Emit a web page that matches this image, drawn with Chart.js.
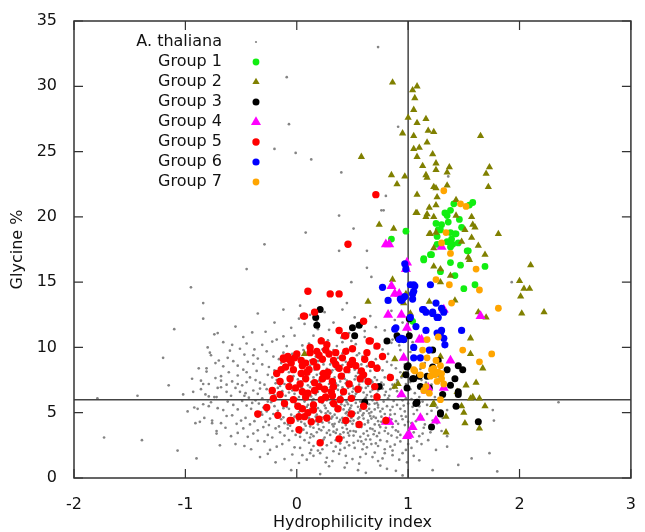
<!DOCTYPE html>
<html>
<head>
<meta charset="utf-8">
<script src="https://cdn.jsdelivr.net/npm/chart.js@4/dist/chart.umd.min.js"></script>
<style>
  html, body { margin: 0; padding: 0; background: #fff; }
  #chart { display: block; }
</style>
</head>
<body>
<canvas id="chart" width="645" height="532"></canvas>
<script>
// axis ticks
const xTicks = [-2, -1, 0, 1, 2, 3];
const yTicks = [0, 5, 10, 15, 20, 25, 30, 35];
const refX = 1;
const refY = 6;

const seriesNames = ['A. thaliana', 'Group 1', 'Group 2', 'Group 3', 'Group 4', 'Group 5', 'Group 6', 'Group 7'];

// background proteome (the dense cloud is approximated)
const thaliana = [
  [0.73,33.0],[-0.09,30.7],[-0.07,27.1],[-0.20,25.2],[-0.01,24.9],[0.13,24.4],[0.40,23.4],[0.91,26.9],
  [0.80,21.6],[0.78,20.5],[0.38,20.1],[0.51,19.1],[0.08,18.8],[-0.29,17.9],[0.38,17.4],[0.63,17.4],
  [0.63,16.1],[-0.45,16.0],[1.36,23.1],[0.76,20.5],[0.49,15.0],[0.67,15.4],[1.93,15.0],
  [-0.95,14.6],[-0.84,13.4],[-0.84,12.2],[-1.10,11.4],[-0.74,11.0],[-0.71,11.1],[-1.20,9.2],[-1.15,7.1],
  [-1.43,6.3],[-1.79,6.1],[-1.39,2.9],[-1.07,2.1],[-0.98,5.1],[-0.90,1.5],[-0.91,4.2],[-0.87,4.3],
  [-0.89,5.3],[-0.80,10.0],[-0.77,9.4],[-0.81,8.4],[-0.84,7.2],[-0.82,6.4],[-0.79,5.5],[-0.76,4.2],
  [-0.72,3.4],[-0.69,2.5],[-0.74,6.2],[-0.71,6.9],[-0.70,9.0],[-1.73,3.1],
  [1.73,1.9],[1.57,1.5],[1.80,0.5],[1.77,4.4],[2.35,5.8],[1.35,3.2],[1.35,2.4],[1.76,5.2],[1.45,1.0],[1.22,0.6],
  [-0.35,12.6],[0.02,12.2],[0.41,12.9],[0.66,12.4],[0.88,12.1],[0.25,12.7],[-0.12,12.9],
  [-0.55,11.6],[-0.28,11.2],[0.07,11.8],[0.19,11.4],[0.47,11.1],[0.58,11.7],[0.79,11.3],[0.95,11.9],[-0.05,11.5],[0.33,11.9],
  [-0.66,10.4],[-0.48,10.8],[-0.31,10.2],[-0.18,10.6],[-0.02,10.9],[0.11,10.3],[0.22,10.7],[0.36,10.1],
  [0.49,10.5],[0.61,10.8],[0.74,10.2],[0.86,10.6],[1.04,10.4],[0.15,10.9],[0.41,10.4],[-0.09,10.1],
  [-0.78,9.6],[-0.62,9.2],[-0.51,9.9],[-0.39,9.4],[-0.27,9.7],[-0.16,9.1],[-0.04,9.5],[0.06,9.8],
  [0.17,9.3],[0.28,9.6],[0.37,9.2],[0.45,9.9],[0.54,9.4],[0.63,9.7],[0.71,9.1],[0.82,9.5],
  [0.93,9.8],[1.09,9.3],[1.18,9.6],[0.12,9.0],[0.33,9.8],[-0.21,9.3],
  [-0.88,8.4],[-0.73,8.8],[-0.61,8.1],[-0.53,8.6],[-0.44,8.9],[-0.36,8.2],[-0.25,8.5],[-0.14,8.8],
  [-0.07,8.1],[0.03,8.6],[0.09,8.9],[0.16,8.3],[0.24,8.7],[0.31,8.1],[0.38,8.5],[0.44,8.9],
  [0.52,8.3],[0.58,8.7],[0.66,8.2],[0.73,8.6],[0.81,8.9],[0.89,8.4],[0.97,8.7],[1.06,8.2],
  [1.15,8.8],[0.21,8.0],[0.47,8.1],[-0.31,8.7],[0.62,8.95],[0.35,8.35],
  [-0.94,7.6],[-0.79,7.2],[-0.68,7.8],[-0.58,7.4],[-0.49,7.1],[-0.42,7.7],[-0.33,7.3],[-0.26,7.9],
  [-0.18,7.5],[-0.11,7.2],[-0.03,7.8],[0.04,7.4],[0.10,7.1],[0.15,7.7],[0.21,7.3],[0.27,7.9],
  [0.32,7.5],[0.37,7.1],[0.43,7.6],[0.48,7.3],[0.53,7.8],[0.59,7.4],[0.64,7.05],[0.70,7.7],
  [0.76,7.3],[0.83,7.9],[0.90,7.5],[0.98,7.2],[1.07,7.6],[1.16,7.3],[1.27,7.8],[0.25,7.55],
  [0.40,7.85],[0.08,7.65],[-0.15,7.05],[0.56,7.15],[0.67,7.45],
  [-1.02,6.4],[-0.86,6.8],[-0.72,6.2],[-0.63,6.6],[-0.55,6.9],[-0.47,6.3],[-0.39,6.7],[-0.31,6.1],
  [-0.24,6.5],[-0.17,6.9],[-0.10,6.3],[-0.04,6.7],[0.02,6.2],[0.07,6.6],[0.12,6.95],[0.17,6.4],
  [0.22,6.8],[0.26,6.1],[0.31,6.5],[0.35,6.85],[0.40,6.3],[0.44,6.7],[0.49,6.15],[0.54,6.55],
  [0.58,6.9],[0.63,6.35],[0.68,6.75],[0.74,6.2],[0.80,6.6],[0.87,6.9],[0.94,6.4],[1.02,6.8],
  [1.10,6.2],[1.19,6.6],[1.29,6.45],[0.15,6.05],[0.47,6.45],[0.71,6.05],[-0.07,6.55],[0.28,6.7],
  [0.60,6.55],[0.05,6.85],
  [-0.92,5.4],[-0.77,5.8],[-0.66,5.2],[-0.57,5.6],[-0.49,5.9],[-0.41,5.3],[-0.34,5.7],[-0.27,5.1],
  [-0.20,5.5],[-0.13,5.9],[-0.07,5.3],[-0.01,5.7],[0.05,5.2],[0.10,5.6],[0.14,5.9],[0.19,5.35],
  [0.23,5.75],[0.28,5.1],[0.33,5.5],[0.37,5.85],[0.42,5.25],[0.46,5.65],[0.51,5.05],[0.55,5.45],
  [0.60,5.8],[0.65,5.3],[0.70,5.7],[0.75,5.1],[0.81,5.5],[0.87,5.9],[0.93,5.3],[1.00,5.7],
  [1.08,5.2],[1.17,5.6],[1.26,5.4],[0.25,5.55],[0.39,5.4],[0.58,5.6],[0.12,5.05],[0.68,5.95],
  [-0.10,5.6],[0.44,5.95],
  [-0.83,4.6],[-0.68,4.2],[-0.58,4.8],[-0.50,4.4],[-0.42,4.1],[-0.35,4.7],[-0.28,4.3],[-0.21,4.9],
  [-0.14,4.5],[-0.08,4.1],[-0.02,4.7],[0.04,4.3],[0.09,4.9],[0.14,4.5],[0.19,4.1],[0.24,4.65],
  [0.29,4.25],[0.34,4.85],[0.39,4.45],[0.44,4.05],[0.49,4.6],[0.54,4.2],[0.59,4.8],[0.64,4.4],
  [0.70,4.1],[0.76,4.7],[0.82,4.3],[0.88,4.9],[0.95,4.5],[1.03,4.2],[1.12,4.7],[1.22,4.4],
  [1.31,4.6],[0.31,4.55],[0.52,4.95],[0.17,4.7],[0.67,4.55],[-0.04,4.35],
  [-0.72,3.6],[-0.59,3.2],[-0.48,3.8],[-0.39,3.4],[-0.30,3.9],[-0.22,3.1],[-0.15,3.5],[-0.08,3.8],
  [-0.01,3.3],[0.06,3.7],[0.12,3.1],[0.18,3.5],[0.24,3.9],[0.30,3.3],[0.36,3.7],[0.42,3.1],
  [0.48,3.6],[0.54,3.95],[0.60,3.4],[0.66,3.8],[0.72,3.2],[0.79,3.6],[0.86,3.9],[0.93,3.3],
  [1.01,3.7],[1.10,3.2],[1.20,3.5],[0.33,3.55],[0.51,3.25],[0.15,3.85],
  [-0.55,2.6],[-0.41,2.2],[-0.29,2.8],[-0.18,2.4],[-0.07,2.9],[0.03,2.3],[0.11,2.7],[0.19,2.1],
  [0.27,2.5],[0.35,2.9],[0.43,2.3],[0.51,2.7],[0.59,2.2],[0.67,2.6],[0.75,2.9],[0.84,2.4],
  [0.93,2.8],[1.03,2.3],[1.12,2.6],[0.39,2.65],[0.23,2.85],[0.62,2.95],
  [-0.33,1.6],[-0.19,1.2],[-0.04,1.8],[0.09,1.4],[0.21,1.9],[0.32,1.3],[0.44,1.7],[0.56,1.1],
  [0.68,1.6],[0.79,1.9],[0.92,1.4],[1.05,1.7],[0.27,1.55],
  [-0.05,0.6],[0.21,0.3],[0.43,0.8],[0.62,0.4],[0.81,0.7],[0.95,0.2],
  [0.13,6.25],[0.37,6.05],[0.45,5.05],[0.20,7.45],[0.52,7.55],[0.30,4.95],[0.09,5.45],[0.62,6.15],
  [0.35,7.25],[0.27,5.95],[0.48,4.35],[0.18,4.85],[0.57,5.15],[0.41,6.95],[0.06,6.05],[0.73,5.4],
  [0.22,3.65],[0.46,3.45],[0.65,4.95],[0.11,7.95],[0.55,8.05],[0.32,8.25],[-0.12,4.65],[0.02,5.05],
  [0.79,6.35],[0.86,4.15],[0.39,3.05],[0.70,3.6],[0.16,5.75],[0.50,6.3],[0.26,6.35],[0.60,4.55],
  [0.43,5.55],[0.34,4.15],[0.13,3.35],[0.74,7.1],[0.95,5.95],[-0.20,6.15],[0.58,2.8],[0.90,3.1],
  [-0.45,10.3],[-0.22,10.45],[0.05,10.15],[0.28,10.55],[0.53,10.25],[0.68,10.6],[0.92,10.15],[-0.60,9.75],
  [-0.35,9.15],[-0.12,9.6],[0.02,9.25],[0.23,9.85],[0.41,9.55],[0.59,9.3],[0.77,9.85],[0.88,9.2],
  [1.02,9.65],[-0.47,9.45],[0.14,9.7],[0.50,9.15],
  [-0.81,8.15],[-0.66,8.55],[-0.48,8.3],[-0.39,8.75],[-0.20,8.25],[-0.02,8.4],[0.12,8.6],[0.27,8.35],
  [0.41,8.65],[0.55,8.45],[0.69,8.8],[0.77,8.25],[0.85,8.65],[0.93,8.1],[1.01,8.5],[1.11,8.35],
  [-0.57,8.95],[0.19,8.95],[0.36,8.85],[0.63,8.55],
  [-0.86,7.45],[-0.73,7.65],[-0.63,7.15],[-0.53,7.85],[-0.45,7.35],[-0.37,7.5],[-0.29,7.15],[-0.22,7.7],
  [-0.06,7.3],[0.01,7.55],[0.13,7.35],[0.18,7.9],[0.29,7.2],[0.34,7.7],[0.45,7.45],[0.50,7.05],
  [0.61,7.65],[0.66,7.25],[0.72,7.5],[0.79,7.7],[0.86,7.15],[0.94,7.7],[1.02,7.35],[1.12,7.5],
  [1.21,7.15],[0.23,7.75],[0.39,7.4],[0.57,7.9],
  [-0.93,6.6],[-0.79,6.25],[-0.68,6.95],[-0.59,6.3],[-0.51,6.6],[-0.43,6.15],[-0.35,6.45],[-0.27,6.8],
  [-0.20,6.35],[-0.13,6.65],[-0.02,6.45],[0.04,6.95],[0.09,6.3],[0.19,6.6],[0.24,6.25],[0.33,6.6],
  [0.38,6.2],[0.42,6.55],[0.46,6.9],[0.52,6.25],[0.56,6.75],[0.61,6.05],[0.66,6.6],[0.72,6.45],
  [0.77,6.85],[0.83,6.3],[0.90,6.65],[0.98,6.1],[1.06,6.5],[1.14,6.85],[1.24,6.2],[0.30,6.95],
  [0.11,6.55],[0.50,6.6],
  [-0.84,5.65],[-0.71,5.35],[-0.62,5.85],[-0.53,5.25],[-0.45,5.55],[-0.37,5.95],[-0.30,5.4],[-0.23,5.8],
  [-0.17,5.15],[-0.09,5.45],[-0.04,5.85],[0.03,5.5],[0.07,5.85],[0.16,5.45],[0.21,5.15],[0.30,5.75],
  [0.35,5.2],[0.40,5.65],[0.48,5.35],[0.53,5.75],[0.57,5.25],[0.62,5.5],[0.67,5.05],[0.73,5.6],
  [0.78,5.85],[0.84,5.2],[0.90,5.6],[0.97,5.1],[1.04,5.45],[1.13,5.85],[1.21,5.15],[0.26,5.35],
  [0.45,5.8],[0.12,5.3],
  [-0.76,4.4],[-0.63,4.75],[-0.54,4.15],[-0.46,4.6],[-0.38,4.35],[-0.31,4.85],[-0.25,4.05],[-0.18,4.65],
  [-0.11,4.2],[-0.05,4.85],[0.01,4.4],[0.07,4.15],[0.11,4.6],[0.21,4.4],[0.26,4.95],[0.32,4.1],
  [0.36,4.6],[0.41,4.25],[0.46,4.8],[0.51,4.4],[0.56,4.65],[0.61,4.1],[0.66,4.75],[0.73,4.35],
  [0.79,4.9],[0.85,4.5],[0.91,4.15],[0.98,4.7],[1.07,4.35],[1.17,4.9],[1.26,4.2],[0.23,4.25],
  [0.43,4.55],[0.71,4.6],
  [-0.64,3.85],[-0.53,3.45],[-0.44,3.15],[-0.35,3.65],[-0.26,3.3],[-0.19,3.8],[-0.11,3.25],[-0.04,3.6],
  [0.03,3.15],[0.09,3.45],[0.15,3.2],[0.20,3.75],[0.27,3.45],[0.33,3.95],[0.39,3.35],[0.45,3.75],
  [0.51,3.6],[0.57,3.15],[0.63,3.6],[0.69,3.35],[0.75,3.9],[0.82,3.4],[0.89,3.65],[0.97,3.15],
  [1.05,3.5],[1.14,3.85],[0.25,3.1],[0.42,3.5],
  [-0.47,2.45],[-0.35,2.85],[-0.24,2.15],[-0.13,2.6],[-0.02,2.35],[0.07,2.9],[0.15,2.45],[0.23,2.2],
  [0.31,2.7],[0.39,2.15],[0.47,2.5],[0.55,2.85],[0.63,2.35],[0.71,2.65],[0.79,2.2],[0.88,2.55],
  [0.98,2.15],[1.08,2.8],[0.35,2.4],[0.19,2.6],
  [-0.26,1.85],[-0.11,1.45],[0.02,1.15],[0.15,1.7],[0.26,1.2],[0.38,1.85],[0.50,1.45],[0.62,1.85],
  [0.73,1.3],[0.86,1.75],[0.99,1.2],[0.12,1.9],[0.45,1.15],[0.70,1.95],
  [-0.20,11.9],[0.12,12.5],[0.52,12.3],[0.71,11.55],[0.29,11.35],[-0.40,11.15],[0.85,12.8],[0.03,13.2],[0.45,13.4],
  [0.31,6.15],[0.36,5.6],[0.41,5.95],[0.47,5.2],[0.53,6.45],[0.57,5.85],[0.63,5.15],[0.67,6.25],
  [0.72,5.75],[0.77,5.3],[0.82,6.1],[0.86,5.45],[0.91,6.25],[0.96,5.55],[0.32,4.7],[0.38,4.3],
  [0.44,4.95],[0.50,4.15],[0.55,4.55],[0.60,4.95],[0.64,4.25],[0.69,4.7],[0.74,4.05],[0.79,4.5],
  [0.84,4.85],[0.89,4.35],[0.94,4.75],[1.00,4.3],[0.35,3.45],[0.41,3.85],[0.47,3.25],[0.53,3.55],
  [0.58,3.9],[0.64,3.25],[0.68,3.75],[0.74,3.45],[0.80,3.85],[0.85,3.25],[0.91,3.55],[0.37,6.75],
  [0.44,7.25],[0.51,6.85],[0.56,7.4],[0.62,6.9],[0.68,7.35],[0.73,6.7],[0.78,7.15],[0.84,6.8],
  [0.90,7.3],[0.27,4.4],[0.22,5.05],[0.17,4.35],[0.29,3.65],[0.24,2.95],[0.45,2.75],[0.52,2.3],
  [0.60,2.6],[0.66,2.95],[0.73,2.45],[0.81,2.8],[0.86,2.1],[0.07,4.55],[0.12,3.95],[0.03,3.45],
  [-0.06,4.0],[-0.16,3.95],[-0.24,4.55],[-0.32,5.05],[-0.40,5.75],[-0.46,6.5],[-0.53,7.2],[-0.33,6.85],
  [-0.19,7.25],[-0.26,5.85],[-0.12,5.35],[0.00,6.05],[0.08,4.0],[0.55,5.0],[0.49,5.55],[0.41,4.6],
  [0.70,5.25],[0.65,5.65],[0.76,4.3],[0.97,4.05],[1.05,4.9],[1.10,5.5],[1.15,4.1],[1.03,6.05],
  [1.13,3.4],[1.18,2.9],[1.00,2.6],[0.95,1.9],[0.77,1.5],[0.57,1.6],[0.33,2.05],[0.13,2.15],
  [0.05,1.75],[0.29,0.9],[0.55,0.6],[0.75,0.95],[0.89,0.55],[1.10,1.35],[1.25,2.15],[1.30,3.6],
  [1.35,5.2],[0.42,7.95],[0.30,8.7],[0.56,9.55],[0.70,9.95],[0.85,10.35],[0.96,10.85],[0.40,10.75],
  [0.61,11.25],[0.18,11.95],[-0.12,10.85],[-0.38,9.85],[-0.58,10.2],[-0.45,8.1],[-0.68,7.45]
];

const group1 = [
  [1.58,21.1],[1.55,20.9],[1.41,21.0],[1.38,20.5],[1.35,20.1],[1.46,19.8],[1.25,19.5],[1.30,19.4],
  [1.36,19.6],[1.27,19.0],[1.38,18.8],[1.42,18.7],[1.48,19.2],[0.98,18.9],[1.26,18.5],[1.39,18.3],
  [1.35,18.1],[1.26,17.9],[1.40,17.9],[1.53,17.4],[1.20,17.1],[1.14,16.8],[1.29,19.0],[1.43,18.7],
  [1.38,17.7],[1.14,16.7],[1.21,17.1],[1.29,15.8],[1.38,16.5],[1.47,16.3],[1.69,16.2],[1.60,14.8],
  [1.50,14.5],[0.85,18.3],[1.54,17.4],[1.42,15.5],[1.04,12.0],[1.33,20.3],[1.45,18.0]
];

const group2 = [
  [0.86,30.3],[1.08,30.0],[1.04,29.7],[1.06,29.1],[1.05,28.2],[1.00,27.6],[1.08,27.2],[1.16,27.5],
  [0.95,26.4],[1.05,26.2],[1.18,26.6],[1.23,26.5],[1.65,26.2],[1.17,25.7],[1.10,25.3],[1.05,25.2],
  [1.08,24.6],[1.22,24.8],[1.13,23.9],[1.25,24.1],[1.25,23.6],[1.37,23.8],[1.35,23.4],[1.73,23.8],
  [1.70,23.3],[1.72,22.3],[0.97,23.1],[0.90,22.5],[1.16,23.2],[1.17,23.0],[1.23,22.3],[1.25,22.2],
  [1.35,22.4],[1.08,21.7],[1.26,21.5],[1.19,20.7],[1.25,20.9],[1.08,20.3],[1.17,20.2],[1.23,20.0],
  [1.43,21.3],[1.43,20.1],[1.57,20.0],[1.58,19.4],[1.60,19.2],[1.51,19.0],[1.19,18.7],[1.25,18.8],
  [1.57,18.4],[1.48,18.1],[1.63,17.8],[1.81,18.7],[1.69,17.1],
  [0.58,24.6],[0.85,23.2],[0.74,19.4],[0.87,19.1],[1.07,20.3],[1.23,17.6],[1.16,20.0],[1.20,18.7],
  [2.10,16.3],[2.00,15.1],[2.04,14.5],[2.09,14.5],[2.01,13.9],[2.02,12.6],[2.22,12.7],
  [1.23,16.2],[1.29,16.0],[1.38,15.5],[1.54,16.9],[1.55,16.7],[1.29,15.0],[1.19,13.5],[1.42,13.6],
  [1.63,12.7],[1.70,12.3],[1.56,10.7],[1.56,9.5],[1.67,8.4],[1.29,9.3],[1.52,7.1],[1.61,7.3],
  [1.44,6.6],[1.56,6.1],[1.58,6.2],[1.64,6.1],[1.69,5.5],[1.48,5.5],[1.50,5.0],[1.34,4.7],
  [1.51,4.2],[1.64,3.8],[1.34,3.5],[1.23,5.7],[0.96,13.4],[1.02,12.6],[0.91,7.2],[0.96,7.9],
  [0.64,13.5],[0.98,14.1],[0.88,9.1],[0.88,7.0],[1.22,5.6],[0.07,9.5],[0.86,15.2]
];

const group3 = [
  [0.21,12.9],[0.17,12.3],[0.18,11.7],[0.50,11.5],[0.56,11.7],[0.52,10.9],[0.81,10.5],[0.74,7.0],
  [0.61,5.8],[0.90,10.9],[0.96,10.6],[1.01,10.9],[0.99,8.5],[0.99,6.9],[1.05,7.6],[1.08,5.8],
  [1.21,3.9],[1.29,5.0],[1.22,9.8],[0.91,10.7],[1.01,12.2],[1.00,8.6],[0.98,7.9],[1.04,7.6],
  [1.10,7.8],[1.11,7.0],[1.17,7.8],[1.19,6.9],[1.22,8.5],[1.35,8.3],[1.42,7.6],[1.45,8.6],
  [1.49,8.3],[1.38,7.1],[1.45,6.6],[1.45,6.4],[1.07,5.7],[1.29,4.9],[1.43,5.5],[1.63,4.3],
  [1.27,9.0],[1.31,6.4]
];

const group4 = [
  [0.80,17.9],[0.83,17.9],[1.30,17.7],[0.99,16.5],[0.98,16.0],[0.85,14.7],[0.88,14.1],[0.82,12.5],
  [0.94,12.5],[1.32,12.9],[1.65,12.4],[1.12,10.6],[0.96,9.2],[0.94,6.4],[0.83,4.3],[1.04,3.9],
  [1.11,4.6],[1.25,4.4],[1.01,3.3],[1.18,6.9],[0.99,11.5],[1.38,9.0],[1.32,6.9],[1.16,6.7],
  [0.99,3.2],[0.92,14.1],[1.10,10.6],[0.80,4.3]
];

const group5 = [
  [0.10,14.3],[0.30,14.1],[0.38,14.1],[0.16,12.7],[0.06,12.4],[0.60,12.0],[0.38,11.3],[0.43,10.9],
  [0.65,10.5],[0.72,10.1],[0.27,10.2],[0.26,9.8],[0.29,9.5],[0.44,9.7],[-0.08,9.3],[-0.02,9.2],
  [-0.12,9.1],[0.04,9.0],[0.08,8.8],[0.15,8.9],[0.23,9.1],[0.33,9.0],[0.41,9.2],[0.61,9.1],
  [0.67,8.7],[0.72,8.4],[0.53,8.6],[-0.10,8.5],[-0.03,8.3],[0.04,8.0],[0.11,8.3],[0.18,8.5],
  [0.28,8.1],[0.38,8.4],[0.45,8.3],[-0.06,7.6],[-0.15,7.4],[0.08,7.6],[0.16,7.3],[0.23,7.6],
  [0.32,7.4],[0.40,7.8],[0.57,7.6],[0.64,7.4],[0.84,7.7],[-0.22,6.7],[-0.01,6.9],[0.16,6.7],
  [0.33,7.0],[-0.21,6.1],[-0.11,5.7],[-0.03,6.0],[0.01,5.5],[0.08,6.2],[0.15,5.6],[0.22,6.0],
  [0.26,6.2],[0.32,6.3],[0.39,6.0],[0.49,6.1],[0.60,5.5],[0.72,6.2],[-0.35,4.9],[-0.17,4.8],
  [-0.06,4.4],[0.02,4.7],[0.07,4.7],[0.20,4.5],[0.27,4.6],[0.49,4.9],[0.56,4.1],[0.21,2.7],
  [0.38,3.0],[0.05,5.3],[0.15,5.2],[-0.14,8.3],[-0.12,9.2],[-0.07,9.1],[-0.05,4.4],[0.02,3.7],
  [0.07,12.4],[0.44,10.9],[0.66,10.5],[0.77,9.3],[0.80,4.4],[0.71,21.7],[0.46,17.9],
  [0.12,9.6],[0.20,9.4],[0.35,8.7],[0.50,9.0],[0.10,6.5],[0.25,6.8],[0.42,6.6],[0.05,8.6],
  [0.00,9.5],[0.18,9.7],[0.35,9.6],[0.09,8.1],[0.24,8.0],[0.48,8.7],[0.58,8.2],[-0.18,8.0],
  [-0.07,7.0],[0.03,7.2],[0.20,7.0],[0.27,7.8],[0.47,7.2],[0.55,6.8],[0.70,7.0],[-0.15,6.4],
  [0.05,6.6],[0.31,6.6],[0.37,5.3],[0.13,4.3],[0.44,4.4],[-0.27,5.4],[0.63,9.6],[0.50,9.9],
  [0.22,10.5],[0.12,10.0],[-0.05,8.8],[0.33,5.7],[0.60,7.9],[0.10,5.0]
];

const group6 = [
  [0.97,16.4],[0.98,16.0],[1.05,14.8],[1.05,14.3],[1.04,13.7],[0.95,13.7],[1.20,14.8],[1.25,13.4],
  [1.13,12.9],[1.16,12.7],[1.22,12.7],[1.30,13.0],[1.32,12.7],[1.27,12.3],[0.89,11.5],[1.07,11.6],
  [1.16,11.3],[1.26,11.1],[1.30,11.3],[1.32,10.7],[1.33,10.2],[1.48,11.3],[0.92,10.6],[0.96,10.6],
  [1.05,9.2],[1.11,9.2],[1.05,10.0],[0.77,14.6],[0.82,13.6],[0.94,13.6],[0.97,13.9],[1.02,14.8],
  [1.06,14.7],[1.19,9.8],[1.29,11.1],[1.26,12.3],[0.88,11.4],[0.94,10.7],[0.93,13.7],[1.02,12.3],
  [1.14,12.9],[1.22,12.6],[1.04,14.1]
];

const group7 = [
  [1.32,22.0],[1.47,21.0],[1.52,20.8],[1.34,18.8],[1.30,18.0],[1.38,17.2],[1.61,16.0],[1.64,14.4],
  [1.25,15.2],[1.37,14.8],[1.39,13.4],[1.81,13.0],[1.75,9.5],[1.64,8.9],[1.49,9.8],[1.27,10.8],
  [1.17,10.6],[1.13,9.8],[1.17,9.2],[1.25,9.0],[1.29,8.6],[1.23,8.4],[1.25,8.0],[1.30,8.0],
  [1.30,7.6],[1.26,7.4],[1.32,7.2],[1.20,7.8],[1.16,7.0],[1.14,6.7],[1.19,6.5],[1.29,6.0],
  [1.06,8.2],[1.13,8.6],[1.05,8.3],[1.11,7.9],[1.21,8.3],[1.27,8.1],[1.24,7.9]
];

const groups = [thaliana, group1, group2, group3, group4, group5, group6, group7];
const colors = ['#848484', '#11ee11', '#808000', '#000000', '#ff00ff', '#ff0000', '#0000ff', '#ffa500'];
const shapes = ['circle', 'circle', 'triangle', 'circle', 'triangle', 'circle', 'circle', 'circle'];
const radii = [1.35, 3.4, 4.2, 3.5, 5.8, 3.7, 3.6, 3.4];

const toXY = arr => arr.map(([x, y]) => ({ x, y }));

const datasets = groups.map((g, i) => ({
  label: seriesNames[i],
  data: toXY(g),
  backgroundColor: colors[i],
  borderColor: colors[i],
  borderWidth: 0,
  pointStyle: shapes[i],
  pointRadius: radii[i],
  pointHoverRadius: radii[i],
  order: i === 0 ? 20 : 8 - i
}));

// reference lines
datasets.push({
  label: 'x ref', data: [{ x: refX, y: 0 }, { x: refX, y: 35 }],
  showLine: true, borderColor: '#444', borderWidth: 1.5, pointRadius: 0, order: 15
});
datasets.push({
  label: 'y ref', data: [{ x: -2, y: refY }, { x: 3, y: refY }],
  showLine: true, borderColor: '#444', borderWidth: 1.5, pointRadius: 0, order: 15
});

const FONT = 'DejaVu Sans';

const framePlugin = {
  id: 'frame',
  afterDraw(chart) {
    const { ctx, chartArea: a, scales } = chart;
    ctx.save();
    ctx.strokeStyle = '#333';
    ctx.lineWidth = 1.5;
    ctx.strokeRect(a.left, a.top, a.right - a.left, a.bottom - a.top);
    ctx.lineWidth = 1.2;
    ctx.beginPath();
    xTicks.forEach(v => {
      const px = scales.x.getPixelForValue(v);
      ctx.moveTo(px, a.bottom); ctx.lineTo(px, a.bottom - 9);
      ctx.moveTo(px, a.top); ctx.lineTo(px, a.top + 9);
    });
    yTicks.forEach(v => {
      const py = scales.y.getPixelForValue(v);
      ctx.moveTo(a.left, py); ctx.lineTo(a.left + 9, py);
      ctx.moveTo(a.right, py); ctx.lineTo(a.right - 9, py);
    });
    ctx.stroke();

    // key, text right aligned with the sample on its right
    ctx.font = `16px "${FONT}"`;
    ctx.textAlign = 'right';
    ctx.textBaseline = 'middle';
    const textRight = a.left + 148;
    const markX = a.left + 182;
    seriesNames.forEach((name, i) => {
      const y = a.top + 21 + i * 20;
      ctx.fillStyle = '#111';
      ctx.fillText(name, textRight, y);
      ctx.fillStyle = colors[i];
      ctx.beginPath();
      const r = i === 0 ? 1.1 : radii[i];
      if (shapes[i] === 'triangle') {
        ctx.moveTo(markX, y - r);
        ctx.lineTo(markX + r * 0.87, y + r * 0.5);
        ctx.lineTo(markX - r * 0.87, y + r * 0.5);
        ctx.closePath();
      } else {
        ctx.arc(markX, y, r, 0, Math.PI * 2);
      }
      ctx.fill();
    });
    ctx.restore();
  }
};

new Chart(document.getElementById('chart'), {
  type: 'scatter',
  data: { datasets },
  options: {
    responsive: false,
    animation: false,
    events: [],
    layout: { padding: { top: 21, right: 4, left: 0, bottom: 0 } },
    plugins: { legend: { display: false }, tooltip: { enabled: false } },
    scales: {
      x: {
        type: 'linear', min: -2, max: 3,
        afterBuildTicks: s => { s.ticks = xTicks.map(value => ({ value })); },
        afterFit: s => { s.height = 54; },
        grid: { display: false },
        border: { display: false },
        ticks: { color: '#111', padding: 9, font: { family: FONT, size: 16 } },
        title: { display: true, text: 'Hydrophilicity index', color: '#111', padding: { top: 0, bottom: 0 }, font: { family: FONT, size: 16 } }
      },
      y: {
        type: 'linear', min: 0, max: 35,
        afterBuildTicks: s => { s.ticks = yTicks.map(value => ({ value })); },
        afterFit: s => { s.width = 74; },
        grid: { display: false },
        border: { display: false },
        ticks: { color: '#111', padding: 9, font: { family: FONT, size: 16 } },
        title: { display: true, text: 'Glycine %', color: '#111', padding: { top: 8, bottom: 0 }, font: { family: FONT, size: 16 } }
      }
    }
  },
  plugins: [framePlugin]
});
</script>
</body>
</html>
